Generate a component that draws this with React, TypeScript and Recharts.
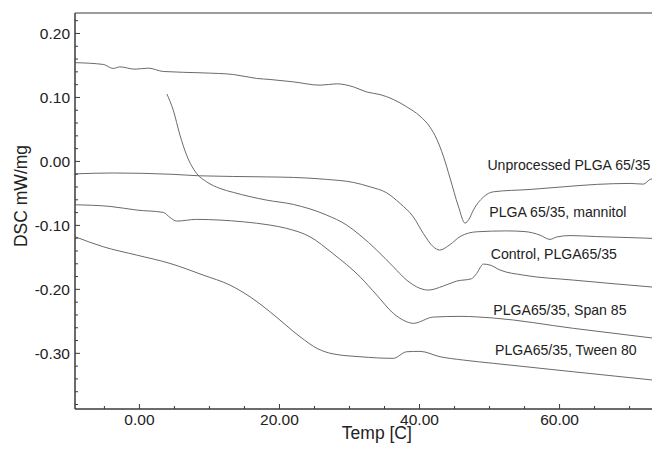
import React from 'react';
import { LineChart, Line, XAxis, YAxis, ReferenceArea, ReferenceDot } from 'recharts';

// ---- Data ----
const unprocessedTemp = [-9.17, -5.17, -3.74, -2.79, -0.64, 1.26, 3.4, 9.11, 13.4, 16.74, 18.64, 21.97, 25.79, 28.17, 30.54, 32.46, 34.36, 36.26, 38.17, 40.07, 41.5, 42.46, 43.4, 44.36, 45.54, 46.5, 47.07, 47.69, 49.11, 50.54, 55.79, 60.54, 65.31, 70.07, 71.97, 72.93, 73.3];
const unprocessedDsc = [0.1544, 0.1516, 0.1453, 0.1478, 0.1442, 0.1458, 0.1406, 0.1384, 0.1359, 0.1297, 0.1281, 0.1244, 0.1192, 0.1213, 0.1166, 0.1085, 0.1045, 0.0969, 0.0853, 0.0708, 0.0536, 0.0348, 0.0083, -0.0261, -0.0698, -0.0964, -0.0902, -0.0761, -0.0558, -0.0475, -0.0438, -0.0397, -0.0359, -0.0344, -0.0355, -0.0281, -0.0269];

const mannitolTemp = [-9.17, -3.74, 4.79, 8.64, 18.17, 21.97, 26.74, 30.54, 32.93, 35.31, 37.21, 39.11, 40.54, 41.97, 42.86, 44.36, 45.79, 48.17, 52.46, 55.07, 57.21, 58.64, 59.6, 61.5, 65.31, 70.07, 73.3];
const mannitolDsc = [-0.0194, -0.0181, -0.0202, -0.0225, -0.0242, -0.025, -0.0281, -0.0328, -0.0397, -0.0491, -0.0656, -0.0866, -0.1125, -0.1334, -0.1386, -0.13, -0.1175, -0.11, -0.1086, -0.1097, -0.1152, -0.1219, -0.1181, -0.1159, -0.1175, -0.1191, -0.1203];

const controlTemp = [3.93, 4.83, 5.79, 6.74, 8.17, 9.6, 11.5, 13.4, 18.17, 21.97, 26.74, 29.6, 31.5, 33.89, 36.26, 38.17, 40.07, 41.26, 43.4, 45.31, 47.4, 48.17, 49.11, 50.07, 51.5, 54.83, 61.97, 73.3];
const controlDsc = [0.1052, 0.0802, 0.0411, 0.0098, -0.0188, -0.0319, -0.0422, -0.0484, -0.0605, -0.0672, -0.0839, -0.0995, -0.1152, -0.1386, -0.1647, -0.1855, -0.1984, -0.2011, -0.1948, -0.187, -0.1835, -0.175, -0.1605, -0.162, -0.1698, -0.1777, -0.1855, -0.1964];

const spanTemp = [-9.17, -4.21, -0.36, 3.4, 4.36, 5.31, 8.17, 11.5, 14.83, 18.64, 21.03, 24.36, 27.6, 31.5, 33.89, 36.26, 38.17, 39.11, 41.97, 45.79, 50.54, 61.97, 73.3];
const spanDsc = [-0.0678, -0.0703, -0.0761, -0.0797, -0.0875, -0.0933, -0.0906, -0.0917, -0.0944, -0.0995, -0.1047, -0.1178, -0.1438, -0.1803, -0.2089, -0.2375, -0.2506, -0.2531, -0.2433, -0.2422, -0.2448, -0.2609, -0.2761];

const tweenTemp = [-9.17, -5.17, -0.4, 4.36, 9.11, 12.93, 15.79, 18.64, 20.07, 22.93, 25.5, 27.5, 31.5, 36.26, 38.17, 40.07, 42.93, 46.26, 50.54, 61.97, 73.3];
const tweenDsc = [-0.1178, -0.1334, -0.1464, -0.1594, -0.1777, -0.1933, -0.2116, -0.235, -0.248, -0.274, -0.293, -0.3005, -0.3053, -0.3078, -0.2975, -0.2969, -0.3053, -0.3105, -0.3156, -0.3288, -0.3417];

const seriesNames = ['Unprocessed PLGA 65/35', 'PLGA 65/35, mannitol', 'Control, PLGA65/35', 'PLGA65/35, Span 85', 'PLGA65/35, Tween 80'];
const labelTemp = [49.7, 49.97, 50.17, 50.54, 50.79];
const labelDsc = [-0.0053, -0.0792, -0.1444, -0.2316, -0.2953];

const xTicks = [-5, 0, 5, 10, 15, 20, 25, 30, 35, 40, 45, 50, 55, 60, 65, 70];
const xMajor = [0, 20, 40, 60];
const yTicks = [-0.38, -0.36, -0.34, -0.32, -0.3, -0.28, -0.26, -0.24, -0.22, -0.2, -0.18, -0.16, -0.14, -0.12, -0.1, -0.08, -0.06, -0.04, -0.02, 0, 0.02, 0.04, 0.06, 0.08, 0.1, 0.12, 0.14, 0.16, 0.18, 0.2, 0.22];
const yMajor = [-0.3, -0.2, -0.1, 0, 0.1, 0.2];

const X_DOMAIN: [number, number] = [-9.2, 73.3];
const Y_DOMAIN: [number, number] = [-0.387, 0.232];

const build = (t: number[], v: number[]) => t.map((temp, i) => ({ t: temp, v: v[i] }));
const seriesData = [
  build(unprocessedTemp, unprocessedDsc),
  build(mannitolTemp, mannitolDsc),
  build(controlTemp, controlDsc),
  build(spanTemp, spanDsc),
  build(tweenTemp, tweenDsc),
];

const AXIS = '#3a3a3a';
const TEXT = '#222';
const LINE = '#6a6a6a';
const FONT = '"Liberation Sans", Arial, Helvetica, sans-serif';

const isMajor = (v: number, list: number[]) => list.some((m) => Math.abs(m - v) < 1e-6);
const fmt = (v: number) => (Math.abs(v) < 1e-9 ? '0.00' : v.toFixed(2));

const XTick = (props: any) => {
  const { x, y, payload } = props;
  const v = payload.value;
  const major = isMajor(v, xMajor);
  return (
    <g>
      <line x1={x} x2={x} y1={y} y2={y - (major ? 5 : 3)} stroke={AXIS} strokeWidth={1} />
      {major && (
        <text x={x} y={y + 5} dy="0.71em" textAnchor="middle" fontSize={15.5} fill={TEXT} fontFamily={FONT}>
          {fmt(v)}
        </text>
      )}
    </g>
  );
};

const YTick = (props: any) => {
  const { x, y, payload } = props;
  const v = payload.value;
  const major = isMajor(v, yMajor);
  return (
    <g>
      <line x1={x} x2={x + (major ? 5 : 3)} y1={y} y2={y} stroke={AXIS} strokeWidth={1} />
      {major && (
        <text x={x - 5} y={y} dy="0.36em" textAnchor="end" fontSize={15.5} fill={TEXT} fontFamily={FONT}>
          {fmt(v)}
        </text>
      )}
    </g>
  );
};

const XLabel = (props: any) => {
  const vb = props.viewBox || { x: 67, y: 401, width: 577.7, height: 40 };
  return (
    <text x={vb.x + vb.width / 2 + 13} y={vb.y + vb.height - 10} textAnchor="middle" fontSize={17.5} fill={TEXT} fontFamily={FONT}>
      Temp [C]
    </text>
  );
};

const YLabel = () => {
  const cx = 18.7;
  const cy = 188;
  return (
    <text x={cx} y={cy} transform={`rotate(-90 ${cx} ${cy})`} textAnchor="middle" fontSize={17.5} fill={TEXT} fontFamily={FONT}>
      DSC mW/mg
    </text>
  );
};

export default function App() {
  return (
    <div style={{ fontFamily: FONT, width: 652, height: 441 }}>
      <LineChart width={652} height={441} margin={{ top: 5, right: 7.3, left: 0, bottom: 0 }}>
        <XAxis
          dataKey="t"
          type="number"
          domain={X_DOMAIN}
          allowDataOverflow
          ticks={xTicks}
          interval={0}
          tick={<XTick />}
          tickLine={false}
          tickSize={0}
          tickMargin={0}
          height={40}
          axisLine={{ stroke: AXIS }}
          label={XLabel}
        />
        <YAxis
          dataKey="v"
          type="number"
          domain={Y_DOMAIN}
          allowDataOverflow
          ticks={yTicks}
          interval={0}
          tick={<YTick />}
          tickLine={false}
          tickSize={0}
          tickMargin={0}
          width={67}
          axisLine={{ stroke: AXIS }}
          label={YLabel}
        />
        <ReferenceArea x1={X_DOMAIN[0]} x2={X_DOMAIN[1]} y1={Y_DOMAIN[0]} y2={Y_DOMAIN[1]} fill="none" stroke={AXIS} strokeWidth={1} fillOpacity={0} ifOverflow="visible" />
        {seriesData.map((d, i) => (
          <Line
            key={seriesNames[i]}
            data={d}
            dataKey="v"
            name={seriesNames[i]}
            type="monotone"
            dot={false}
            activeDot={false}
            stroke={LINE}
            strokeWidth={1}
            isAnimationActive={false}
          />
        ))}
        {seriesNames.map((name, i) => (
          <ReferenceDot
            key={'lbl' + i}
            x={labelTemp[i]}
            y={labelDsc[i]}
            r={0}
            fill="none"
            stroke="none"
            label={{ value: name, position: 'right', offset: 0, fontSize: 14.1, fill: TEXT, fontFamily: FONT }}
          />
        ))}
      </LineChart>
    </div>
  );
}
